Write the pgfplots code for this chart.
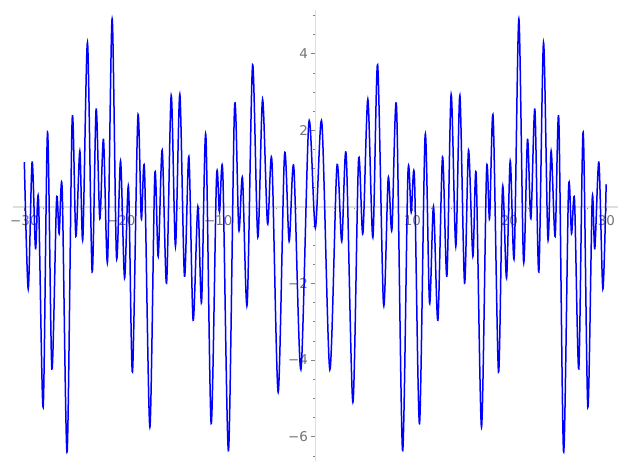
\documentclass[border=0pt]{standalone}
\usepackage{pgfplots}
\pgfplotsset{compat=1.18}
\usepackage{fontspec}
\setmainfont{DejaVu Sans}
\definecolor{axisgray}{RGB}{222,222,222}
\definecolor{tickgray}{RGB}{130,130,130}
\definecolor{labelgray}{RGB}{115,115,115}
\begin{document}
\begin{tikzpicture}
\begin{axis}[
  name=ax,
  scale only axis,
  width=605.3bp, height=450.8bp,
  xmin=-31.2, xmax=31.2, ymin=-6.63, ymax=5.14,
  axis lines=middle,
  every inner x axis line/.style={-},
  every inner y axis line/.style={-},
  axis line style={draw=axisgray, line width=1.3bp},
  xtick={-30,-20,-10,10,20,30},
  xticklabels={−30,−20,−10,10,20,30},
  ytick={-6,-4,-2,2,4},
  yticklabels={−6,−4,−2,2,4},
  minor xtick={-30,-28,...,30},
  minor ytick={-6.5,-6,...,5},
  tick align=outside,
  major tick length=4bp,
  minor tick length=2.5bp,
  tick style={draw=tickgray, line width=0.6bp},
  ticklabel style={font=\fontsize{13.5}{16}\selectfont, text=labelgray},
  xticklabel style={yshift=-1bp},
  clip=false,
]
\addplot[color={rgb,255:red,0;green,0;blue,255}, line width=1.5bp, smooth, tension=0.5] coordinates {
(-30.0,1.17)(-29.6,-2.14)(-29.2,1.17)(-28.85,-1.09)(-28.54,0.20)(-28.06,-5.23)
(-27.61,1.95)(-27.16,-4.23)(-26.68,0.17)(-26.41,-0.70)(-26.10,0.46)(-25.59,-6.40)
(-25.07,2.28)(-24.69,-0.77)(-24.28,1.46)(-23.97,-0.83)(-23.49,4.29)(-23.01,-1.70)
(-22.60,2.55)(-22.22,-0.31)(-21.84,1.76)(-21.42,-1.42)(-20.95,4.91)(-20.50,-1.31)
(-20.08,1.20)(-19.67,-1.86)(-19.26,0.52)(-18.85,-4.31)(-18.30,2.35)(-17.94,-0.31)
(-17.61,0.95)(-17.06,-5.75)(-16.55,0.84)(-16.20,-1.29)(-15.79,1.48)(-15.34,-1.99)
(-14.86,2.91)(-14.42,-1.03)(-13.97,2.94)(-13.49,-1.81)(-13.04,1.32)(-12.60,-2.96)
(-12.11,0.01)(-11.73,-2.49)(-11.29,1.88)(-10.74,-5.66)(-10.19,0.75)(-9.88,-0.14)
(-9.54,0.87)(-8.95,-6.36)(-8.33,2.61)(-7.89,-0.60)(-7.51,0.75)(-7.03,-2.55)
(-6.47,3.71)(-5.93,-0.79)(-5.44,2.81)(-4.93,-0.44)(-4.48,1.21)(-3.83,-4.84)
(-3.18,1.36)(-2.70,-0.90)(-2.22,1.04)(-1.49,-4.25)(-0.67,2.20)(0,-0.55)
(0.67,2.20)(1.49,-4.25)(2.22,1.05)(2.72,-0.90)(3.18,1.36)(3.87,-5.10)
(4.45,1.21)(4.90,-0.70)(5.41,2.81)(5.93,-0.80)(6.42,3.71)(7.03,-2.55)
(7.51,0.75)(7.89,-0.60)(8.37,2.61)(8.99,-6.36)(9.54,0.85)(9.88,-0.14)
(10.22,0.75)(10.74,-5.66)(11.32,1.88)(11.77,-2.51)(12.18,0.01)(12.63,-2.96)
(13.11,1.30)(13.56,-1.81)(14.0,2.94)(14.48,-1.03)(14.90,2.91)(15.38,-1.99)
(15.79,1.48)(16.24,-1.29)(16.58,0.84)(17.13,-5.75)(17.65,0.95)(17.96,-0.31)
(18.33,2.35)(18.88,-4.31)(19.30,0.52)(19.71,-1.86)(20.09,1.20)(20.50,-1.31)
(20.98,4.91)(21.46,-1.42)(21.87,1.76)(22.22,-0.31)(22.63,2.55)(23.04,-1.70)
(23.52,4.29)(23.97,-0.83)(24.31,1.46)(24.72,-0.77)(25.10,2.28)(25.59,-6.40)
(26.10,0.46)(26.41,-0.70)(26.72,0.17)(27.16,-4.23)(27.61,1.95)(28.09,-5.23)
(28.54,0.20)(28.81,-1.09)(29.23,1.17)(29.64,-2.14)(29.98,0.59)
};
\end{axis}
\pgfresetboundingbox
\path ([xshift=-12.7bp,yshift=-9.2bp]ax.south west) rectangle ([xshift=9bp,yshift=10bp]ax.north east);
\end{tikzpicture}
\end{document}
